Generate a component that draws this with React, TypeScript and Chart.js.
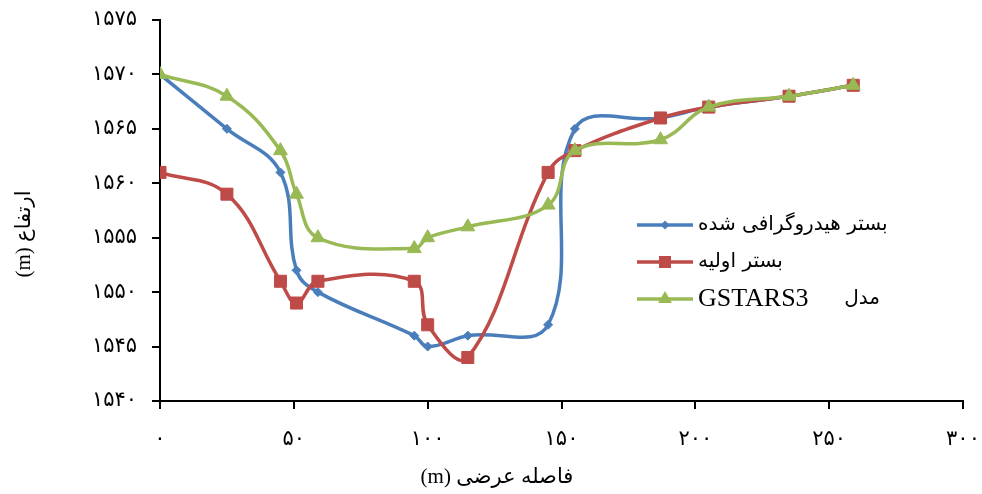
import React, { useEffect, useRef } from "react";
import { Chart, registerables } from "chart.js";

Chart.register(...registerables);

// ---- data ----
const xValues = [0, 25, 45, 51, 59, 95, 100, 115, 145, 155, 187, 205, 235, 259];
const hydroBed = [1570, 1565, 1561, 1552, 1550, 1546, 1545, 1546, 1547, 1565, 1566, 1567, 1568, 1569];
const initialBed = [1561, 1559, 1551, 1549, 1551, 1551, 1547, 1544, 1561, 1563, 1566, 1567, 1568, 1569];
const gstarsBed = [1570, 1568, 1563, 1559, 1555, 1554, 1555, 1556, 1558, 1563, 1564, 1567, 1568, 1569];

const xTickValues = [0, 50, 100, 150, 200, 250, 300];
const xTickLabels = ["۰", "۵۰", "۱۰۰", "۱۵۰", "۲۰۰", "۲۵۰", "۳۰۰"];
const yTickValues = [1540, 1545, 1550, 1555, 1560, 1565, 1570, 1575];
const yTickLabels = ["۱۵۴۰", "۱۵۴۵", "۱۵۵۰", "۱۵۵۵", "۱۵۶۰", "۱۵۶۵", "۱۵۷۰", "۱۵۷۵"];

const seriesNames = ["بستر هیدروگرافی شده", "بستر اولیه", "مدل"];
const modelName = "GSTARS3";
const xTitle = "فاصله عرضی (m)";
const yTitle = "ارتفاع (m)";

const BLUE = "#4A7EBB";
const RED = "#BE4B48";
const GREEN = "#98B954";
const FONT = '"Liberation Serif", "DejaVu Sans", serif';

function pts(ys: number[]) {
  return ys.map((y, i) => ({ x: xValues[i], y }));
}

function drawMarker(ctx: CanvasRenderingContext2D, kind: string, x: number, y: number, color: string) {
  ctx.save();
  ctx.fillStyle = color;
  ctx.beginPath();
  if (kind === "diamond") {
    const r = 4.5;
    ctx.moveTo(x, y - r);
    ctx.lineTo(x + r, y);
    ctx.lineTo(x, y + r);
    ctx.lineTo(x - r, y);
  } else if (kind === "square") {
    const s = 6;
    ctx.rect(x - s, y - s, 2 * s, 2 * s);
  } else {
    const r = 8;
    ctx.moveTo(x, y - r);
    ctx.lineTo(x + r * 0.866, y + r * 0.5);
    ctx.lineTo(x - r * 0.866, y + r * 0.5);
  }
  ctx.closePath();
  ctx.fill();
  ctx.restore();
}

const overlayPlugin = {
  id: "overlay",
  afterDraw(chart: any) {
    const ctx: CanvasRenderingContext2D = chart.ctx;
    const colors = [BLUE, RED, GREEN];
    const kinds = ["diamond", "square", "triangle"];
    const rows = [225, 262, 299];
    ctx.save();
    for (let i = 0; i < 3; i++) {
      const y = rows[i];
      ctx.strokeStyle = colors[i];
      ctx.lineWidth = 3.5;
      ctx.beginPath();
      ctx.moveTo(637, y);
      ctx.lineTo(693, y);
      ctx.stroke();
      drawMarker(ctx, kinds[i], 665, y, colors[i]);
      ctx.fillStyle = "#000";
      (ctx as any).direction = "rtl";
      ctx.textBaseline = "middle";
      if (i < 2) {
        ctx.font = `20px "DejaVu Sans"`;
        ctx.textAlign = "left";
        ctx.fillText(seriesNames[i], 698, y);
      } else {
        ctx.font = `26px "Liberation Serif"`;
        (ctx as any).direction = "ltr";
        ctx.textAlign = "left";
        ctx.fillText(modelName, 698, y);
        ctx.font = `20px "DejaVu Sans"`;
        (ctx as any).direction = "rtl";
        ctx.textAlign = "right";
        ctx.fillText(seriesNames[i], 880, y);
      }
    }
    // x title
    ctx.font = `21px ${FONT}`;
    (ctx as any).direction = "rtl";
    ctx.textAlign = "center";
    ctx.textBaseline = "middle";
    ctx.fillStyle = "#000";
    ctx.fillText(xTitle, 497, 477);
    // y title
    ctx.translate(24, 234);
    ctx.rotate(-Math.PI / 2);
    ctx.fillText(yTitle, 0, 0);
    ctx.restore();
  },
};

export default function App() {
  const ref = useRef<HTMLCanvasElement | null>(null);
  useEffect(() => {
    document.body.style.margin = "0";
    if (!ref.current) return;
    const common = {
      borderWidth: 3.5,
      tension: 0.4,
      pointBorderWidth: 1,
      fill: false,
    };
    const chart = new Chart(ref.current, {
      type: "line",
      data: {
        datasets: [
          {
            ...common,
            label: seriesNames[0],
            data: pts(hydroBed),
            borderColor: BLUE,
            backgroundColor: BLUE,
            pointBackgroundColor: BLUE,
            pointBorderColor: BLUE,
            pointStyle: "rectRot",
            pointRadius: 4.5,
            order: 2,
          },
          {
            ...common,
            label: seriesNames[1],
            data: pts(initialBed),
            borderColor: RED,
            backgroundColor: RED,
            pointBackgroundColor: RED,
            pointBorderColor: RED,
            pointStyle: "rect",
            pointRadius: 8.5,
            order: 1,
          },
          {
            ...common,
            label: seriesNames[2] + " " + modelName,
            data: pts(gstarsBed),
            borderColor: GREEN,
            backgroundColor: GREEN,
            pointBackgroundColor: GREEN,
            pointBorderColor: GREEN,
            pointStyle: "triangle",
            pointRadius: 8,
            order: 0,
          },
        ],
      },
      options: {
        animation: false,
        responsive: false,
        events: [],
        layout: { padding: { left: 0, right: 19, top: 20, bottom: 0 } },
        plugins: {
          legend: { display: false },
          tooltip: { enabled: false },
        },
        scales: {
          x: {
            type: "linear",
            min: 0,
            max: 300,
            afterBuildTicks: (scale: any) => {
              scale.ticks = xTickValues.map((v) => ({ value: v }));
            },
            afterFit: (scale: any) => {
              scale.height = 93;
              scale.paddingLeft = 0;
              scale.paddingRight = 0;
            },
            ticks: {
              autoSkip: false,
              maxRotation: 0,
              padding: 18,
              color: "#000",
              font: { family: '"DejaVu Sans"', size: 21 },
              callback: (_v: any, i: number) => xTickLabels[i],
            },
            grid: {
              display: true,
              drawOnChartArea: false,
              drawTicks: true,
              tickLength: 8,
              color: "#000",
              lineWidth: 2,
            },
            border: { display: true, color: "#000", width: 2 },
          },
          y: {
            type: "linear",
            min: 1540,
            max: 1575,
            afterBuildTicks: (scale: any) => {
              scale.ticks = yTickValues.map((v) => ({ value: v }));
            },
            afterFit: (scale: any) => {
              scale.width = 160;
              scale.paddingTop = 0;
              scale.paddingBottom = 0;
            },
            ticks: {
              autoSkip: false,
              padding: 15,
              color: "#000",
              font: { family: '"DejaVu Sans"', size: 21 },
              callback: (_v: any, i: number) => yTickLabels[i],
            },
            grid: {
              display: true,
              drawOnChartArea: false,
              drawTicks: true,
              tickLength: 8,
              color: "#000",
              lineWidth: 2,
            },
            border: { display: true, color: "#000", width: 2 },
          },
        },
      } as any,
      plugins: [overlayPlugin],
    });
    return () => chart.destroy();
  }, []);
  return (
    <div style={{ position: "absolute", left: 0, top: 0, width: 982, height: 494, background: "#fff" }}>
      <canvas ref={ref} width={982} height={494} style={{ width: 982, height: 494 }} />
    </div>
  );
}
